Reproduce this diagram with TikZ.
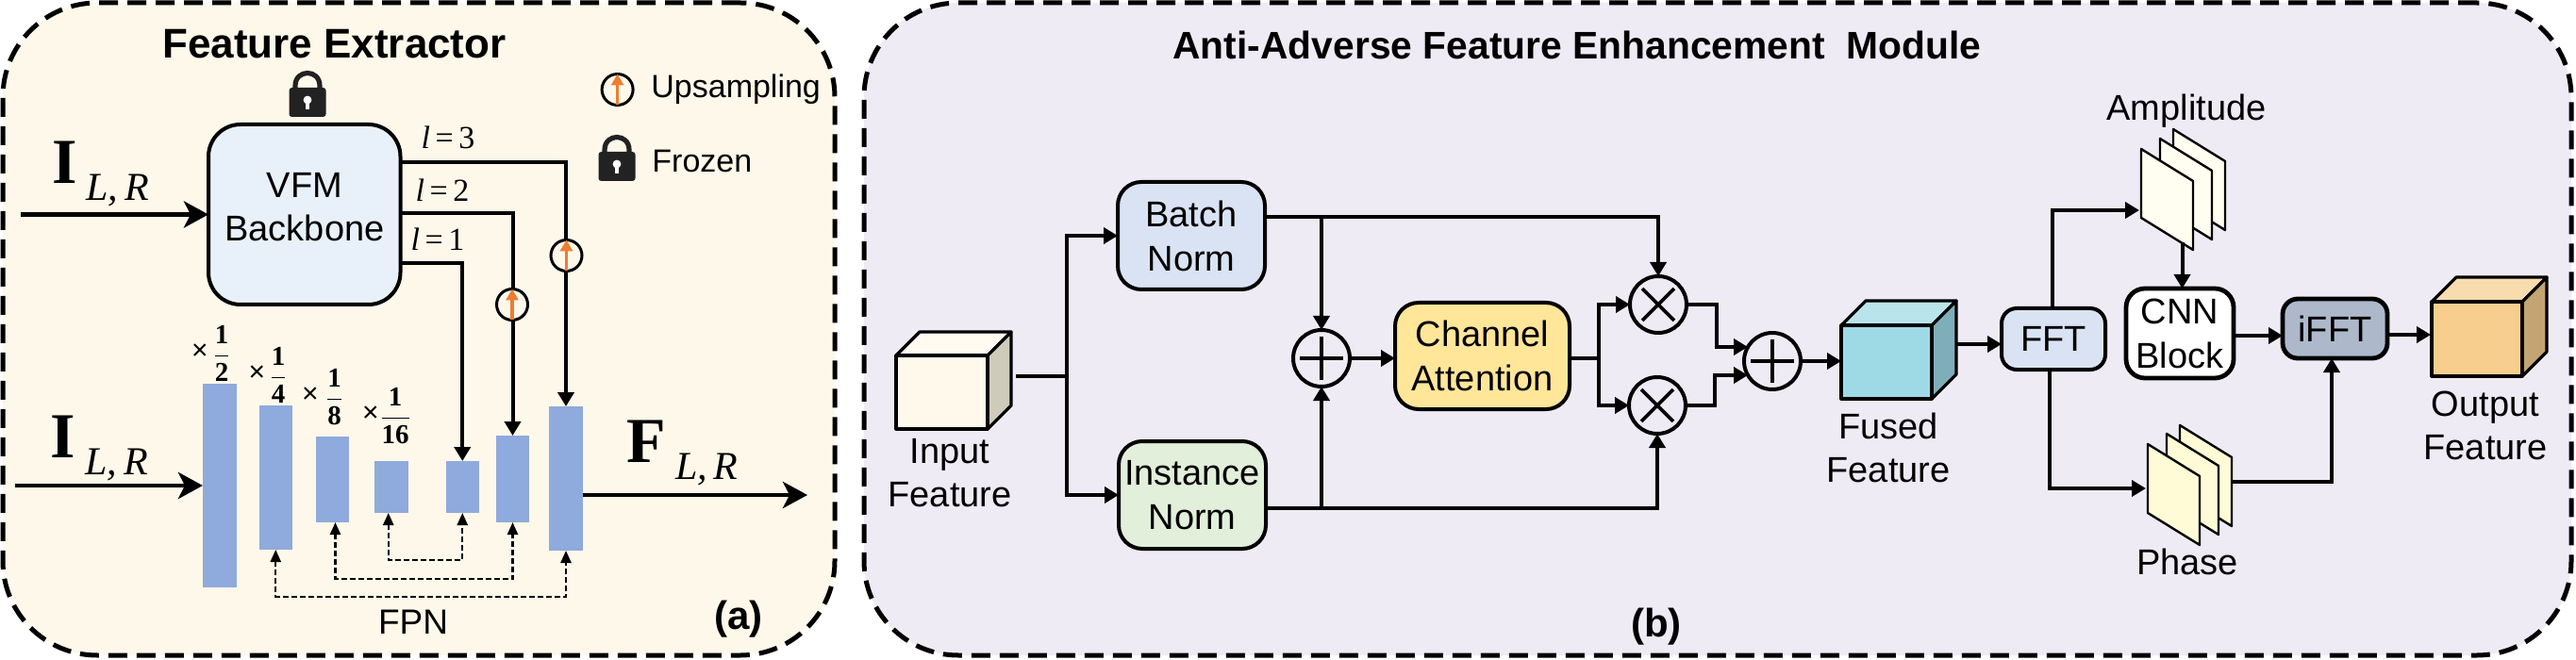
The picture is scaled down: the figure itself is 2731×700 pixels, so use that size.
\documentclass[tikz,border=0pt]{standalone}
\usepackage{fontspec}
\setmainfont{Liberation Sans}
\newfontfamily\tms{Liberation Serif}
\usetikzlibrary{arrows.meta,calc}
\definecolor{panelA}{HTML}{FEF8EA}
\definecolor{panelB}{HTML}{EEEBF5}
\definecolor{vfmfill}{HTML}{E8F1FA}
\definecolor{barblue}{HTML}{8FAADC}
\definecolor{batchfill}{HTML}{DAE3F3}
\definecolor{instfill}{HTML}{E2EFDA}
\definecolor{chanfill}{HTML}{FFE699}
\definecolor{ifftfill}{HTML}{ADB9CA}
\definecolor{orangeup}{HTML}{ED7D31}
\definecolor{lockdark}{HTML}{222222}
\definecolor{inF}{HTML}{FFF9EC}
\definecolor{inS}{HTML}{CFCBBB}
\definecolor{fuF}{HTML}{9EDAE5}
\definecolor{fuS}{HTML}{7FAEBB}
\definecolor{ouF}{HTML}{F7CE8E}
\definecolor{ouS}{HTML}{C4A472}
\definecolor{amF}{HTML}{FFFEF0}
\definecolor{phF}{HTML}{FFFBD6}
\newcommand{\fsz}[2]{\fontsize{#1pt}{#2pt}\selectfont}
\tikzset{
  tipb/.tip={Stealth[length=13pt,width=14pt,inset=3.5pt]},
  tipm/.tip={Triangle[length=7.5pt,width=8.5pt]},
  tips/.tip={Triangle[length=6.5pt,width=5.5pt]},
  conn/.style={line width=2pt},
  bigarrow/.style={line width=2.3pt,-tipb},
  marrow/.style={line width=2pt,-tipm},
  dasharrow/.style={line width=1.2pt,dash pattern=on 3pt off 1.5pt,tips-tips},
  panel/.style={draw=black,line width=2.5pt,dash pattern=on 10pt off 5pt,rounded corners=50pt},
  rbox/.style={draw=black,line width=2pt,align=center,inner sep=0pt,outer sep=0pt,font=\fsz{19}{23.5}},
  barnode/.style={fill=barblue,inner sep=0pt,outer sep=0pt},
  lab/.style={inner sep=0pt,outer sep=0pt,align=center,font=\fsz{19}{23}},
  circ/.style={circle,draw=black,line width=2pt,minimum size=30pt,inner sep=0pt,outer sep=0pt,fill=panelB},
  upc/.style={circle,draw=black,line width=1.5pt,minimum size=16.5pt,inner sep=0pt,outer sep=0pt,fill=panelA},
  uparrow/.style={draw=orangeup,line width=1.6pt,-{Triangle[length=6pt,width=6.5pt]}},
  glyphline/.style={line width=1.8pt},
  celab/.style={inner sep=0pt,outer sep=0pt,font=\tms\fsz{17}{18}},
  sublab/.style={inner sep=0pt,outer sep=0pt,anchor=base west},
  cubeline/.style={draw=black,line width=1.6pt,line join=round},
  planeline/.style={draw=black,line width=1.2pt,line join=round}
}
% name x1 y1 x2 y2 text
\newcommand{\pbox}[6][]{%
  \pgfmathsetmacro\bw{(#5-#3)*0.5}\pgfmathsetmacro\bh{(#6-#4)*0.5}%
  \pgfmathsetmacro\bx{(#3+#5)/2}\pgfmathsetmacro\by{(#4+#6)/2}%
  \node[minimum width=\bw pt,minimum height=\bh pt,#1] (#2) at (\bx,\by)}
% x1 y1 x2 y2 depth front side
\newcommand{\cube}[7]{%
  \filldraw[cubeline,fill=#6!72!white] (#1,#2) -- (#1+#5,#2-#5) -- (#3+#5,#2-#5) -- (#3,#2) -- cycle;
  \filldraw[cubeline,fill=#7] (#3,#2) -- (#3+#5,#2-#5) -- (#3+#5,#4-#5) -- (#3,#4) -- cycle;
  \filldraw[cubeline,fill=#6] (#1,#2) rectangle (#3,#4);}
\newcommand{\plane}[3]{%
  \filldraw[planeline,fill=#3] (#1,#2) -- (#1+55,#2+34) -- (#1+55,#2+107) -- (#1,#2+73) -- cycle;}
\newcommand{\lockicon}[3]{% name, center x, top y
  \coordinate (#1) at (#2,#3+24);
  \draw[line width=2.6pt,draw=lockdark] (#2-13,#3+22) -- (#2-13,#3+15) .. controls (#2-13,#3-3) and (#2+13,#3-3) .. (#2+13,#3+15) -- (#2+13,#3+22);
  \fill[lockdark,rounded corners=1.5pt] (#2-19.5,#3+17) rectangle (#2+19.5,#3+48);
  \fill[white] (#2,#3+30) circle (2.2pt);
  \fill[white] (#2-1.8,#3+30) rectangle (#2+1.8,#3+40);}
\newcommand{\ratio}[6]{% name xtimes ytimes xfrac yfrac den
  \node[inner sep=0pt,font=\fsz{15}{16}] (#1t) at (#2,#3) {×};
  \node[inner sep=0pt,font=\tms\fsz{14.5}{16}\bfseries] (#1f) at (#4,#5) {$\displaystyle\frac{\mbox{\tms\bfseries 1}}{\mbox{\tms\bfseries #6}}$};}
\newcommand{\ILR}[3]{{\tms\fsz{#3}{#3}\bfseries #1}\hspace{5pt}\raisebox{-9pt}{\tms\fsz{21}{21}\itshape #2}}
\begin{document}
\begin{tikzpicture}[x=0.5pt,y=-0.5pt]
\useasboundingbox (0,0) rectangle (2731,700);
% panels
\pbox[panel,fill=panelA]{pa}{3}{3}{885}{695} {};
\pbox[panel,fill=panelB]{pb}{916}{3}{2726}{695} {};
\node[inner sep=0pt,font=\fsz{22}{24}\bfseries] (ta) at (354.5,47) {Feature Extractor};
\node[inner sep=0pt,font=\fsz{20.4}{24}\bfseries] (tb) at (1672,48) {Anti-Adverse Feature Enhancement\ \ Module};
\node[inner sep=0pt,font=\fsz{21}{24}\bfseries] (la) at (783,657) {(a)};
\node[inner sep=0pt,font=\fsz{21}{24}\bfseries] (lb) at (1756,665) {(b)};
% feature extractor
\lockicon{lk1}{326}{76}
\lockicon{lk2}{654}{144}
\pbox[rbox,fill=vfmfill,rounded corners=17pt]{vfm}{221}{132}{424.5}{323} {};
\node[lab] (vfmt) at (323,220) {VFM\\Backbone};
\pbox[barnode]{b1}{215}{407}{250.5}{623} {};
\pbox[barnode]{b2}{274.5}{430}{310}{583} {};
\pbox[barnode]{b3}{335}{463}{370}{554} {};
\pbox[barnode]{b4}{397}{489}{432.5}{544} {};
\pbox[barnode]{b5}{472.5}{489}{508}{544} {};
\pbox[barnode]{b6}{526}{462}{561}{554} {};
\pbox[barnode]{b7}{582}{431}{618}{584} {};
\coordinate (i1) at (22,227.5);
\coordinate (i2) at (16,515);
\coordinate (y3) at (0,172);
\coordinate (y2) at (0,226);
\coordinate (y1) at (0,279);
\coordinate (fe) at (618,525);
\coordinate (fo) at (856,525);
\draw[bigarrow] (i1) -- (vfm.west);
\draw[bigarrow] (i2) -- (b1.west);
\draw[bigarrow] (fe) -- (fo);
\draw[conn,-tipm] (vfm.east |- y3) -| (b7.north);
\draw[conn,-tipm] (vfm.east |- y2) -| (b6.north);
\draw[conn,-tipm] (vfm.east |- y1) -| (b5.north);
\node[upc] (u3) at (600.5,271) {};
\node[upc] (u2) at (543,323) {};
\node[upc] (u0) at (654.6,95) {};
\draw[uparrow] (u3.south) -- (u3.north);
\draw[uparrow] (u2.south) -- (u2.north);
\draw[uparrow] (u0.south) -- (u0.north);
\node[inner sep=0pt,anchor=west,font=\fsz{17}{18}] (tu) at (690,95) {Upsampling};
\node[inner sep=0pt,anchor=west,font=\fsz{17}{18}] (tf) at (691,171) {Frozen};
\node[celab] (l3) at (475,146) {\textit{l}\,=\,3};
\node[celab] (l2) at (469,202) {\textit{l}\,=\,2};
\node[celab] (l1) at (464,254) {\textit{l}\,=\,1};
\node[sublab] (il1) at (55,195) {\ILR{I}{L,\,R}{34}};
\node[sublab] (il2) at (54,485) {\ILR{I}{L,\,R}{34}};
\node[sublab] (fl) at (664.5,490) {\ILR{F}{L,\,R}{34}};
\ratio{r2}{212}{373}{235}{375}{2}
\ratio{r4}{272.5}{396}{295}{398}{4}
\ratio{r8}{329}{419}{354.5}{421}{8}
\ratio{r16}{393}{439}{419}{441}{16}
\draw[dasharrow] ([xshift=-1.5pt]b4.south) -- ++(0,50) -| (b5.south);
\draw[dasharrow] ([xshift=1.5pt]b3.south) -- ++(0,60) -| (b6.south);
\draw[dasharrow] (b2.south) -- ++(0,50) -| (b7.south);
\node[inner sep=0pt,font=\fsz{18.5}{20}] (fpn) at (438,660) {FPN};
% enhancement module
\cube{950}{377}{1047}{455}{25}{inF}{inS}
\coordinate (cin) at (1077,399);
\node[lab] (tin) at (1007,502) {Input\\Feature};
\pbox[rbox,fill=batchfill,rounded corners=12.5pt]{bn}{1185}{193}{1341}{307} {Batch\\Norm};
\pbox[rbox,fill=instfill,rounded corners=12.5pt]{inn}{1186}{468}{1342}{582} {Instance\\Norm};
\pbox[rbox,fill=chanfill,rounded corners=12.5pt]{chan}{1479}{321}{1664}{434} {Channel\\Attention};
\node[circ] (p1) at (1401,380) {};
\node[circ] (x1) at (1758,323) {};
\node[circ] (x2) at (1757,430) {};
\node[circ] (p2) at (1879,383) {};
\foreach \c in {p1,p2}{
  \draw[glyphline] ($(\c)!0.78!(\c.west)$) -- ($(\c)!0.78!(\c.east)$);
  \draw[glyphline] ($(\c)!0.78!(\c.north)$) -- ($(\c)!0.78!(\c.south)$);}
\foreach \c in {x1,x2}{
  \draw[glyphline] ($(\c)!0.8!(\c.45)$) -- ($(\c)!0.8!(\c.225)$);
  \draw[glyphline] ($(\c)!0.8!(\c.135)$) -- ($(\c)!0.8!(\c.-45)$);}
\coordinate (fork) at (1131,399);
\draw[conn] (cin) -- (fork);
\draw[marrow] (fork) |- (bn.west);
\draw[marrow] (fork) |- (inn.west);
\coordinate (yb) at (0,230);
\coordinate (yi) at (0,539);
\draw[marrow] (bn.east |- yb) -| (x1.north);
\draw[marrow] (p1.north |- yb) -- (p1.north);
\draw[marrow] (inn.east |- yi) -| (x2.south);
\draw[marrow] (p1.south |- yi) -- (p1.south);
\draw[marrow] (p1.east) -- (p1.east -| chan.west);
\coordinate (split) at (1695,380);
\draw[conn] (chan.east |- split) -- (split);
\draw[marrow] (split) |- (x1.west);
\draw[marrow] (split) |- (x2.west);
\coordinate (m1) at (1820,0);
\coordinate (m2) at (1818,0);
\draw[marrow] (x1.east) -- (x1.east -| m1) |- (p2.150);
\draw[marrow] (x2.east) -- (x2.east -| m2) |- (p2.210);
\cube{1952}{345}{2048}{423}{26}{fuF}{fuS}
\coordinate (cfw) at (1952,383);
\coordinate (cfe) at (2075,365);
\draw[marrow] (p2.east) -- (cfw);
\node[lab] (tfu) at (2002,475) {Fused\\Feature};
\pbox[rbox,fill=batchfill,rounded corners=8pt]{fft}{2122}{327}{2232}{392} {FFT};
\draw[marrow] (cfe) -- (fft.west |- cfe);
\plane{2304}{137}{amF}
\plane{2290}{147}{amF}
\plane{2270}{158}{amF}
\plane{2311}{451}{phF}
\plane{2297}{460}{phF}
\plane{2277}{471}{phF}
\node[lab] (tam) at (2318,118) {Amplitude};
\node[lab] (tph) at (2319,596) {Phase};
\coordinate (amin) at (2268,223);
\coordinate (amout) at (2313.5,257);
\coordinate (phin) at (2275,518);
\coordinate (phout) at (2367,511);
\coordinate (fa) at (2176,327);
\coordinate (fb) at (2173,392);
\draw[marrow] (fa) |- (amin);
\draw[marrow] (fb) |- (phin);
\pbox[rbox,fill=white,rounded corners=10pt,line width=2.4pt]{cnn}{2254}{306}{2368}{401} {CNN\\Block};
\pbox[rbox,fill=ifftfill,rounded corners=8pt,line width=2.4pt]{ifft}{2420}{317}{2531}{380} {iFFT};
\draw[marrow] (amout) -- (cnn.north -| amout);
\coordinate (ycn) at (0,356);
\draw[marrow] (cnn.east |- ycn) -- (ifft.west |- ycn);
\coordinate (yout) at (0,355);
\coordinate (cow) at (2577,355);
\draw[marrow] (ifft.east |- yout) -- (cow);
\coordinate (ifb) at (2472,380);
\draw[marrow] (phout) -| (ifb);
\cube{2578}{320}{2674}{399}{26}{ouF}{ouS}
\node[lab] (tou) at (2635,451) {Output\\Feature};
\end{tikzpicture}
\end{document}
